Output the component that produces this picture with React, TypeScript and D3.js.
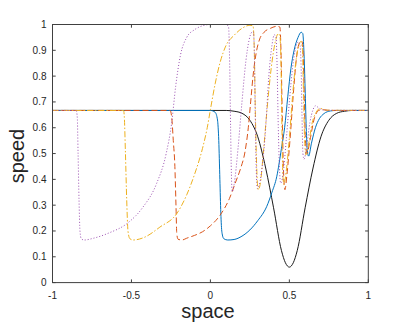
import React from "react";
import * as d3 from "d3";

const xTicks = [-1, -0.5, 0, 0.5, 1];
const xTickLabels = ["-1", "-0.5", "0", "0.5", "1"];
const yTicks = [0, 0.1, 0.2, 0.3, 0.4, 0.5, 0.6, 0.7, 0.8, 0.9, 1];
const yTickLabels = ["0", "0.1", "0.2", "0.3", "0.4", "0.5", "0.6", "0.7", "0.8", "0.9", "1"];

const blackSeries: [number, number][] = [
  [-1, 0.667], [0.1, 0.667], [0.15, 0.664], [0.2, 0.656], [0.25, 0.629], [0.3, 0.565],
  [0.35, 0.444], [0.4, 0.29], [0.45, 0.124], [0.475, 0.077], [0.5, 0.06], [0.525, 0.077],
  [0.55, 0.124], [0.6, 0.29], [0.65, 0.444], [0.7, 0.565], [0.75, 0.629], [0.8, 0.656],
  [0.85, 0.664], [0.9, 0.667], [1, 0.667],
];

const blueSeries: [number, number][] = [
  [-1, 0.667], [0.0, 0.667], [0.03, 0.66], [0.045, 0.63], [0.053, 0.55], [0.06, 0.4],
  [0.066, 0.27], [0.073, 0.195], [0.085, 0.17], [0.11, 0.165], [0.15, 0.167], [0.2, 0.18],
  [0.25, 0.204], [0.3, 0.24], [0.356, 0.294], [0.39, 0.35], [0.42, 0.41], [0.45, 0.52],
  [0.47, 0.6], [0.49, 0.72], [0.51, 0.83], [0.53, 0.9], [0.555, 0.95], [0.575, 0.97],
  [0.585, 0.965], [0.592, 0.9], [0.6, 0.75], [0.607, 0.6], [0.614, 0.51], [0.622, 0.49],
  [0.64, 0.54], [0.665, 0.6], [0.69, 0.635], [0.72, 0.655], [0.76, 0.665], [0.8, 0.667],
  [1, 0.667],
];

const orangeSeries: [number, number][] = [
  [-1, 0.667], [-0.255, 0.667], [-0.245, 0.64], [-0.235, 0.55], [-0.225, 0.45],
  [-0.218, 0.3], [-0.213, 0.19], [-0.205, 0.168], [-0.18, 0.165], [-0.15, 0.172],
  [-0.1, 0.183], [-0.05, 0.197], [0.0, 0.22], [0.06, 0.26], [0.12, 0.325], [0.16, 0.39],
  [0.19, 0.44], [0.22, 0.51], [0.24, 0.6], [0.255, 0.7], [0.27, 0.8], [0.29, 0.89],
  [0.31, 0.94], [0.34, 0.97], [0.38, 0.985], [0.42, 0.993], [0.44, 0.99], [0.447, 0.9],
  [0.455, 0.65], [0.462, 0.45], [0.472, 0.36], [0.485, 0.42], [0.505, 0.56], [0.525, 0.73],
  [0.545, 0.87], [0.565, 0.93], [0.58, 0.935], [0.588, 0.88], [0.595, 0.7], [0.602, 0.55],
  [0.612, 0.5], [0.63, 0.55], [0.66, 0.64], [0.69, 0.668], [0.715, 0.67], [0.75, 0.667],
  [1, 0.667],
];

const yellowSeries: [number, number][] = [
  [-1, 0.667], [-0.55, 0.667], [-0.545, 0.64], [-0.538, 0.5], [-0.53, 0.32], [-0.522, 0.2],
  [-0.51, 0.17], [-0.49, 0.165], [-0.42, 0.175], [-0.32, 0.215], [-0.21, 0.27],
  [-0.15, 0.34], [-0.1, 0.42], [-0.05, 0.52], [-0.02, 0.6], [0.0, 0.67], [0.03, 0.77],
  [0.06, 0.85], [0.1, 0.92], [0.15, 0.958], [0.2, 0.985], [0.25, 0.997], [0.27, 0.995],
  [0.278, 0.9], [0.285, 0.65], [0.293, 0.45], [0.303, 0.36], [0.315, 0.38], [0.335, 0.5],
  [0.36, 0.68], [0.385, 0.83], [0.41, 0.93], [0.43, 0.965], [0.44, 0.955], [0.447, 0.85],
  [0.453, 0.6], [0.458, 0.43], [0.465, 0.38], [0.48, 0.43], [0.5, 0.56], [0.52, 0.72],
  [0.54, 0.85], [0.56, 0.92], [0.575, 0.935], [0.583, 0.9], [0.59, 0.72], [0.597, 0.55],
  [0.605, 0.495], [0.62, 0.53], [0.645, 0.62], [0.67, 0.66], [0.695, 0.675], [0.73, 0.668],
  [1, 0.667],
];

const purpleSeries: [number, number][] = [
  [-1, 0.667], [-0.85, 0.667], [-0.843, 0.64], [-0.838, 0.5], [-0.832, 0.32], [-0.826, 0.2],
  [-0.818, 0.17], [-0.8, 0.165], [-0.74, 0.172], [-0.64, 0.193], [-0.53, 0.228],
  [-0.43, 0.29], [-0.34, 0.385], [-0.28, 0.5], [-0.245, 0.62], [-0.22, 0.76], [-0.19, 0.88],
  [-0.15, 0.95], [-0.1, 0.98], [-0.05, 0.995], [0.0, 1.0], [0.1, 1.0], [0.115, 0.99],
  [0.122, 0.85], [0.128, 0.6], [0.133, 0.42], [0.138, 0.352], [0.15, 0.38], [0.175, 0.52],
  [0.2, 0.7], [0.225, 0.86], [0.245, 0.94], [0.262, 0.97], [0.272, 0.972], [0.278, 0.9],
  [0.284, 0.65], [0.29, 0.45], [0.297, 0.365], [0.31, 0.38], [0.33, 0.46], [0.35, 0.6],
  [0.37, 0.8], [0.39, 0.92], [0.405, 0.96], [0.415, 0.955], [0.422, 0.85], [0.43, 0.6],
  [0.437, 0.45], [0.445, 0.385], [0.46, 0.42], [0.48, 0.55], [0.5, 0.7], [0.52, 0.83],
  [0.54, 0.91], [0.555, 0.933], [0.566, 0.925], [0.574, 0.85], [0.58, 0.65], [0.586, 0.5],
  [0.593, 0.478], [0.61, 0.53], [0.63, 0.62], [0.65, 0.67], [0.665, 0.685], [0.69, 0.675],
  [0.72, 0.668], [1, 0.667],
];

const series = [
  { data: blackSeries, color: "#1a1a1a", dash: null as string | null },
  { data: blueSeries, color: "#0072BD", dash: null },
  { data: orangeSeries, color: "#D95319", dash: "6,3" },
  { data: yellowSeries, color: "#EDB120", dash: "6,2,1.5,2" },
  { data: purpleSeries, color: "#9a4fb0", dash: "1,2" },
];

const W = 407;
const H = 326;
const left = 52.5;
const right = 368.3;
const top = 24.5;
const bottom = 282.6;

export default function App() {
  const x = d3.scaleLinear().domain([-1, 1]).range([left, right]);
  const y = d3.scaleLinear().domain([0, 1]).range([bottom, top]);
  const line = d3
    .line<[number, number]>()
    .x((d) => x(d[0]))
    .y((d) => y(d[1]))
    .curve(d3.curveMonotoneX);
  const tl = 3.2;
  const axisColor = "#404040";
  const font = "'Liberation Sans', Arial, Helvetica, sans-serif";
  return (
    <svg
      width={W}
      height={H}
      style={{ position: "fixed", left: 0, top: 0, background: "#fff" }}
    >
      <rect x={0} y={0} width={W} height={H} fill="#fff" />
      <defs>
        <clipPath id="plotclip">
          <rect x={left} y={top - 2} width={right - left} height={bottom - top + 4} />
        </clipPath>
      </defs>
      <g clipPath="url(#plotclip)">
        {series.map((s, i) => (
          <path
            key={i}
            d={line(s.data) || ""}
            fill="none"
            stroke={s.color}
            strokeWidth={1}
            strokeDasharray={s.dash || undefined}
          />
        ))}
      </g>
      <rect
        x={left}
        y={top}
        width={right - left}
        height={bottom - top}
        fill="none"
        stroke={axisColor}
        strokeWidth={1}
      />
      {xTicks.map((t, i) => (
        <g key={"xt" + i}>
          <line x1={x(t)} x2={x(t)} y1={bottom} y2={bottom - tl} stroke={axisColor} />
          <line x1={x(t)} x2={x(t)} y1={top} y2={top + tl} stroke={axisColor} />
          <text
            x={x(t)}
            y={299}
            textAnchor="middle"
            fontFamily={font}
            fontSize={10}
            fill="#262626"
          >
            {xTickLabels[i]}
          </text>
        </g>
      ))}
      {yTicks.map((t, i) => (
        <g key={"yt" + i}>
          <line x1={left} x2={left + tl} y1={y(t)} y2={y(t)} stroke={axisColor} />
          <line x1={right} x2={right - tl} y1={y(t)} y2={y(t)} stroke={axisColor} />
          <text
            x={46.5}
            y={y(t) + 3.5}
            textAnchor="end"
            fontFamily={font}
            fontSize={10}
            fill="#262626"
          >
            {yTickLabels[i]}
          </text>
        </g>
      ))}
      <text
        x={208}
        y={318}
        textAnchor="middle"
        fontFamily={font}
        fontSize={20}
        fill="#262626"
      >
        space
      </text>
      <text
        transform={`translate(24,156) rotate(-90)`}
        textAnchor="middle"
        fontFamily={font}
        fontSize={20}
        fill="#262626"
      >
        speed
      </text>
    </svg>
  );
}
